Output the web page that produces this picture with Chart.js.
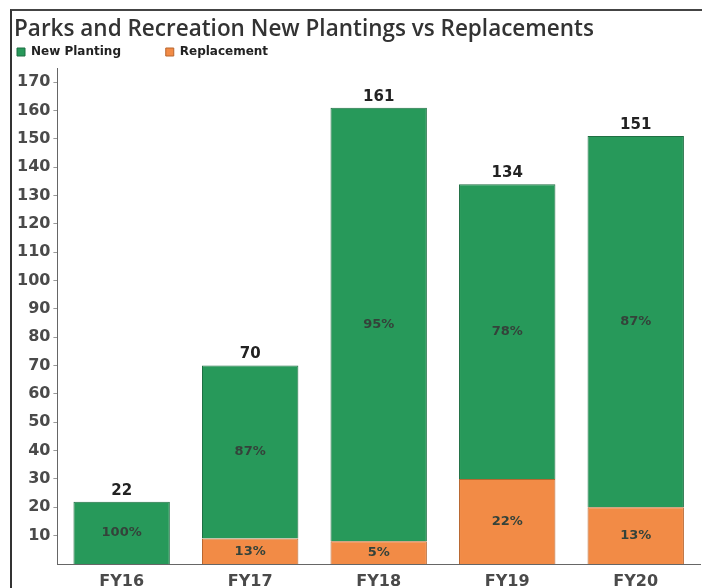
<!DOCTYPE html>
<html>
<head>
<meta charset="utf-8">
<script src="https://cdn.jsdelivr.net/npm/chart.js@4.4.1/dist/chart.umd.min.js"></script>
<style>
  html, body { margin: 0; padding: 0; background: #fff; }
  #wrap { position: relative; width: 702px; height: 588px; }
  #frame {
    position: absolute; left: 10px; top: 9px; width: 700px; height: 600px;
    border-left: 2px solid #333; border-top: 2px solid #444;
  }
  canvas { position: absolute; left: 0; top: 0; }
</style>
</head>
<body>
<div id="wrap">
  <div id="frame"></div>
  <canvas id="chart" width="702" height="588"></canvas>
</div>
<script>
// values
const years = ['FY16', 'FY17', 'FY18', 'FY19', 'FY20']
const newPlanting = [22, 61, 153, 104, 131]
const replacement = [0, 9, 8, 30, 20]
const yTicks = [10, 20, 30, 40, 50, 60, 70, 80, 90, 100, 110, 120, 130, 140, 150, 160, 170]

const green = '#27995a'
const orange = '#f28b46'

const totals = years.map((_, i) => newPlanting[i] + replacement[i])

// draws the totals above the bars and the shares inside each segment
const barLabels = {
  id: 'barLabels',
  afterDatasetsDraw(chart) {
    const ctx = chart.ctx
    const y = chart.scales.y
    ctx.save()
    ctx.textAlign = 'center'
    ctx.textBaseline = 'middle'
    chart.data.datasets.forEach((ds, di) => {
      const meta = chart.getDatasetMeta(di)
      meta.data.forEach((bar, i) => {
        const v = ds.data[i]
        if (!v) return
        const pct = Math.round(v / totals[i] * 100) + '%'
        ctx.font = 'bold 13px "DejaVu Sans"'
        ctx.fillStyle = '#34423a'
        ctx.fillText(pct, bar.x, (bar.y + bar.base) / 2)
      })
    })
    const meta = chart.getDatasetMeta(0)
    ctx.font = 'bold 15px "DejaVu Sans"'
    ctx.fillStyle = '#222'
    totals.forEach((t, i) => {
      ctx.fillText(String(t), meta.data[i].x, y.getPixelForValue(t) - 11)
    })
    ctx.restore()
  }
}

new Chart(document.getElementById('chart'), {
  type: 'bar',
  data: {
    labels: years,
    // replacement first so it sits at the bottom of the stack
    datasets: [
      {
        label: 'Replacement',
        data: replacement,
        backgroundColor: orange,
        borderColor: '#b8662f',
        borderWidth: 1,
        barPercentage: 0.75,
        categoryPercentage: 1
      },
      {
        label: 'New Planting',
        data: newPlanting,
        backgroundColor: green,
        borderColor: '#1f6f43',
        borderWidth: 1,
        barPercentage: 0.75,
        categoryPercentage: 1
      }
    ]
  },
  options: {
    responsive: false,
    animation: false,
    devicePixelRatio: 1,
    layout: { padding: { left: 14, top: 16, right: 2, bottom: -4 } },
    plugins: {
      title: {
        display: true,
        text: 'Parks and Recreation New Plantings vs Replacements',
        align: 'start',
        color: '#333',
        font: { family: '"Open Sans"', size: 22.5, weight: '600', lineHeight: 1.2 },
        padding: { top: 0, bottom: 0 }
      },
      legend: {
        align: 'start',
        reverse: true,
        labels: {
          boxWidth: 8,
          boxHeight: 8,
          padding: 3,
          color: '#222',
          font: { family: '"DejaVu Sans"', size: 12, weight: 'bold' },
          generateLabels(chart) {
            const items = Chart.defaults.plugins.legend.labels.generateLabels(chart)
            // pad the first entry so the second one starts further right
            items.forEach(it => { if (it.text === 'New Planting') it.text += '          ' })
            return items
          }
        }
      },
      tooltip: { enabled: false }
    },
    scales: {
      x: {
        stacked: true,
        grid: { display: false },
        border: { color: '#666' },
        ticks: {
          color: '#4a4a4a',
          padding: 2,
          font: { family: '"DejaVu Sans"', size: 16, weight: 'bold', lineHeight: 1 }
        }
      },
      y: {
        stacked: true,
        min: 0,
        max: 175,
        border: { color: '#666' },
        grid: { drawOnChartArea: false, tickLength: 4, color: '#999' },
        afterBuildTicks(axis) {
          axis.ticks = yTicks.map(v => ({ value: v }))
        },
        ticks: {
          autoSkip: false,
          color: '#4a4a4a',
          padding: 3,
          font: { family: '"DejaVu Sans"', size: 16, weight: 'bold' }
        }
      }
    }
  },
  plugins: [barLabels]
})
</script>
</body>
</html>
